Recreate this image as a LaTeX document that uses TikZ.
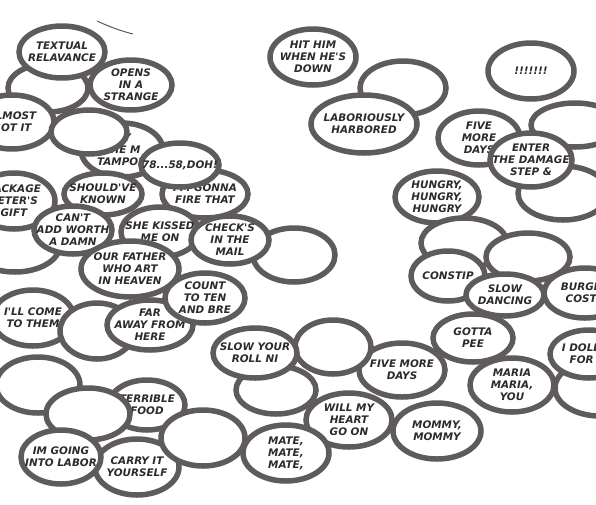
\documentclass[tikz,border=0pt]{standalone}
\usepackage{fontspec}
\newfontfamily\comicfont{DejaVu Sans}
\definecolor{rimgris}{HTML}{5F5B5A}
\definecolor{tinta}{HTML}{2B2B2B}
% one speech balloon: name, x, y, x radius, y radius, text
\newcommand{\bubble}[6]{%
  \draw[bubble] (#2,#3) ellipse [x radius=#4, y radius=#5];
  \node[bubbletext] (#1) at (#2,#3) {#6};}

\begin{document}
\begin{tikzpicture}[x=1pt,y=-1pt,
  bubble/.style={draw=rimgris,fill=white,line width=5.5pt},
  bubbletext/.style={font=\comicfont\bfseries\itshape\fontsize{10.4}{12}\selectfont,
    text=tinta,align=center,inner sep=0pt}]
\useasboundingbox[fill=white] (0,0) rectangle (596,504);

% stray pen stroke
\coordinate (trazoA) at (97,21);
\coordinate (trazoB) at (133,34);
\draw[rimgris,line width=1pt] (trazoA) .. controls (110,27) and (121,31) .. (trazoB);

% left cluster
\bubble{vacioA}{48}{88}{40}{24}{}
\bubble{textual}{62}{52}{43}{26}{TEXTUAL\\RELAVANCE}
\bubble{almost}{12}{122}{42}{27}{ALMOST\\GOT IT}
\bubble{tampon}{122}{150}{41}{27}{MY\\THE M\\TAMPON}
\bubble{vacioB}{89}{132}{38}{22}{}
\bubble{opens}{131}{85}{41}{25}{OPENS\\IN A\\STRANGE}
\bubble{gonna}{205}{194}{43}{24}{I'M GONNA\\FIRE THAT}
\bubble{doh}{180}{165}{39}{22}{78...58,DOH!}
\bubble{vacioC}{15}{245}{45}{27}{}
\bubble{shouldve}{103}{194}{39}{21}{SHOULD'VE\\KNOWN}
\bubble{package}{14}{201}{41}{28}{PACKAGE\\PETER'S\\GIFT}
\bubble{cant}{73}{230}{39}{24}{CAN'T\\ADD WORTH\\A DAMN}
\bubble{kissed}{160}{232}{39}{25}{SHE KISSED\\ME ON}
\bubble{vacioD}{294}{255}{41}{27}{}
\bubble{checks}{230}{240}{39}{24}{CHECK'S\\IN THE\\MAIL}
\bubble{father}{130}{269}{49}{28}{OUR FATHER\\WHO ART\\IN HEAVEN}
\bubble{illcome}{33}{318}{41}{28}{I'LL COME\\TO THEM}
\bubble{vacioE}{97}{331}{37}{28}{}
\bubble{faraway}{150}{325}{43}{25}{FAR\\AWAY FROM\\HERE}
\bubble{count}{205}{298}{40}{25}{COUNT\\TO TEN\\AND BRE}
\bubble{vacioF}{38}{385}{42}{28}{}
\bubble{terrible}{147}{405}{38}{25}{TERRIBLE\\FOOD}
\bubble{vacioG}{88}{414}{42}{26}{}
\bubble{carry}{137}{467}{42}{28}{CARRY IT\\YOURSELF}
\bubble{labor}{61}{457}{40}{27}{IM GOING\\INTO LABOR}
\bubble{vacioH}{203}{438}{42}{28}{}

% middle and bottom
\bubble{vacioI}{276}{390}{40}{24}{}
\bubble{fivelow}{402}{370}{43}{27}{FIVE MORE\\DAYS}
\bubble{vacioJ}{333}{347}{38}{27}{}
\bubble{slowroll}{255}{353}{42}{25}{SLOW YOUR\\ROLL NI}
\bubble{heart}{349}{420}{43}{27}{WILL MY\\HEART\\GO ON}
\bubble{mate}{286}{453}{43}{28}{MATE,\\MATE,\\MATE,}
\bubble{mommy}{437}{431}{44}{28}{MOMMY,\\MOMMY}

% top middle
\bubble{hithim}{313}{57}{43}{28}{HIT HIM\\WHEN HE'S\\DOWN}
\bubble{vacioK}{403}{88}{43}{27}{}
\bubble{harbored}{364}{124}{53}{29}{LABORIOUSLY\\HARBORED}
\bubble{bangs}{531}{71}{43}{28}{!!!!!!!}

% right cluster
\bubble{fiveup}{479}{138}{41}{27}{FIVE\\MORE\\DAYS}
\bubble{vacioL}{575}{125}{44}{22}{}
\bubble{vacioM}{563}{193}{45}{27}{}
\bubble{enter}{531}{160}{41}{27}{ENTER\\THE DAMAGE\\STEP \&}
\bubble{hungry}{437}{197}{42}{26}{HUNGRY,\\HUNGRY,\\HUNGRY}
\bubble{vacioN}{464}{243}{43}{25}{}
\bubble{vacioO}{528}{257}{42}{24}{}
\bubble{constip}{448}{276}{37}{25}{CONSTIP}
\bubble{dancing}{505}{295}{39}{21}{SLOW\\DANCING}
\bubble{burger}{585}{293}{41}{25}{BURGER\\COSTS}
\bubble{gotta}{473}{338}{40}{24}{GOTTA\\PEE}
\bubble{vacioP}{600}{388}{45}{28}{}
\bubble{dollar}{589}{354}{39}{24}{I DOLLAR\\FOR IT}
\bubble{maria}{512}{385}{42}{27}{MARIA\\MARIA,\\YOU}
\end{tikzpicture}
\end{document}
